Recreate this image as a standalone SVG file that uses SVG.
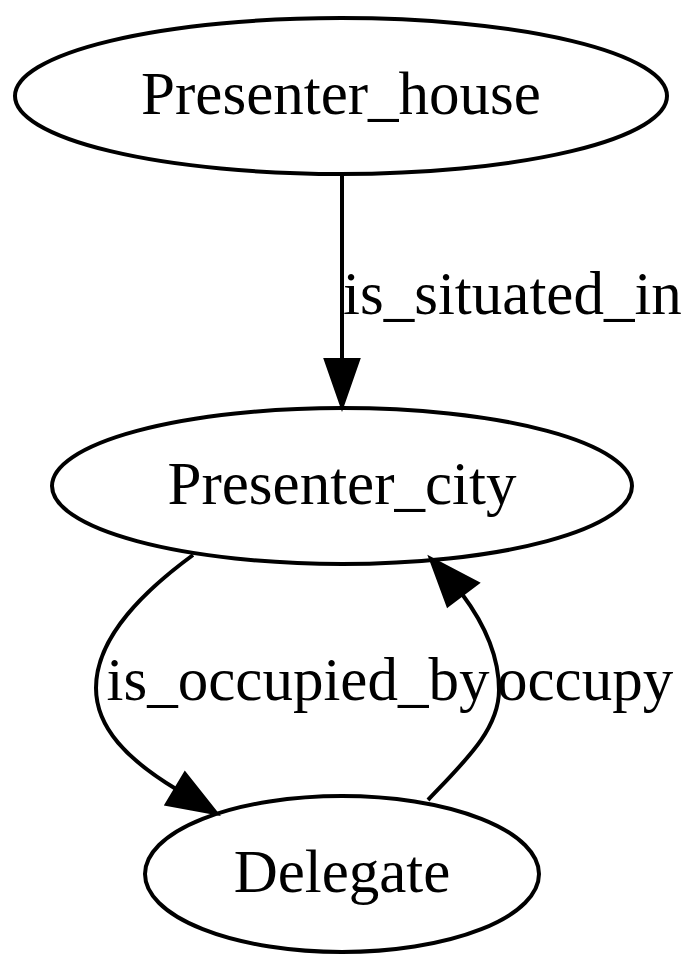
<svg xmlns="http://www.w3.org/2000/svg" width="700" height="971" viewBox="0 0 700 971">
<style>
.node ellipse{fill:none;stroke:#000;stroke-width:4}
.lbl{font-family:"Liberation Serif","Times New Roman",serif;font-size:61px;fill:#000}
.edge path{fill:none;stroke:#000;stroke-width:4}
.edge polygon{fill:#000;stroke:#000;stroke-width:4}
</style>
<rect width="700" height="971" fill="#fff"/>
<g id="connectors">
<g class="edge" id="e1">
<path d="M342,174 L342,360"/>
<polygon points="326,360 358,360 342,406"/>
<text class="lbl" x="343" y="314">is_situated_in</text>
</g>
<g class="edge" id="e2">
<path d="M193,555 C148,588 96,635 96,688 C96,728 128,760 176,789"/>
<polygon points="167,804 185,774 216,813"/>
<text class="lbl" x="298" y="700" text-anchor="middle">is_occupied_by</text>
</g>
<g class="edge" id="e3">
<path d="M428,800 C464,762 499,730 499,690 C499,655 483,622 462,594"/>
<polygon points="448,605 477,583 431,559"/>
<text class="lbl" x="497" y="700">occupy</text>
</g>
</g>
<g class="node" id="Presenter_house">
<ellipse cx="341" cy="96" rx="326" ry="78"/>
<text class="lbl" x="341" y="114" text-anchor="middle">Presenter_house</text>
</g>
<g class="node" id="Presenter_city">
<ellipse cx="342" cy="486" rx="290" ry="78"/>
<text class="lbl" x="342" y="504" text-anchor="middle">Presenter_city</text>
</g>
<g class="node" id="Delegate">
<ellipse cx="342" cy="874" rx="197" ry="78"/>
<text class="lbl" x="342" y="892" text-anchor="middle">Delegate</text>
</g>
</svg>
